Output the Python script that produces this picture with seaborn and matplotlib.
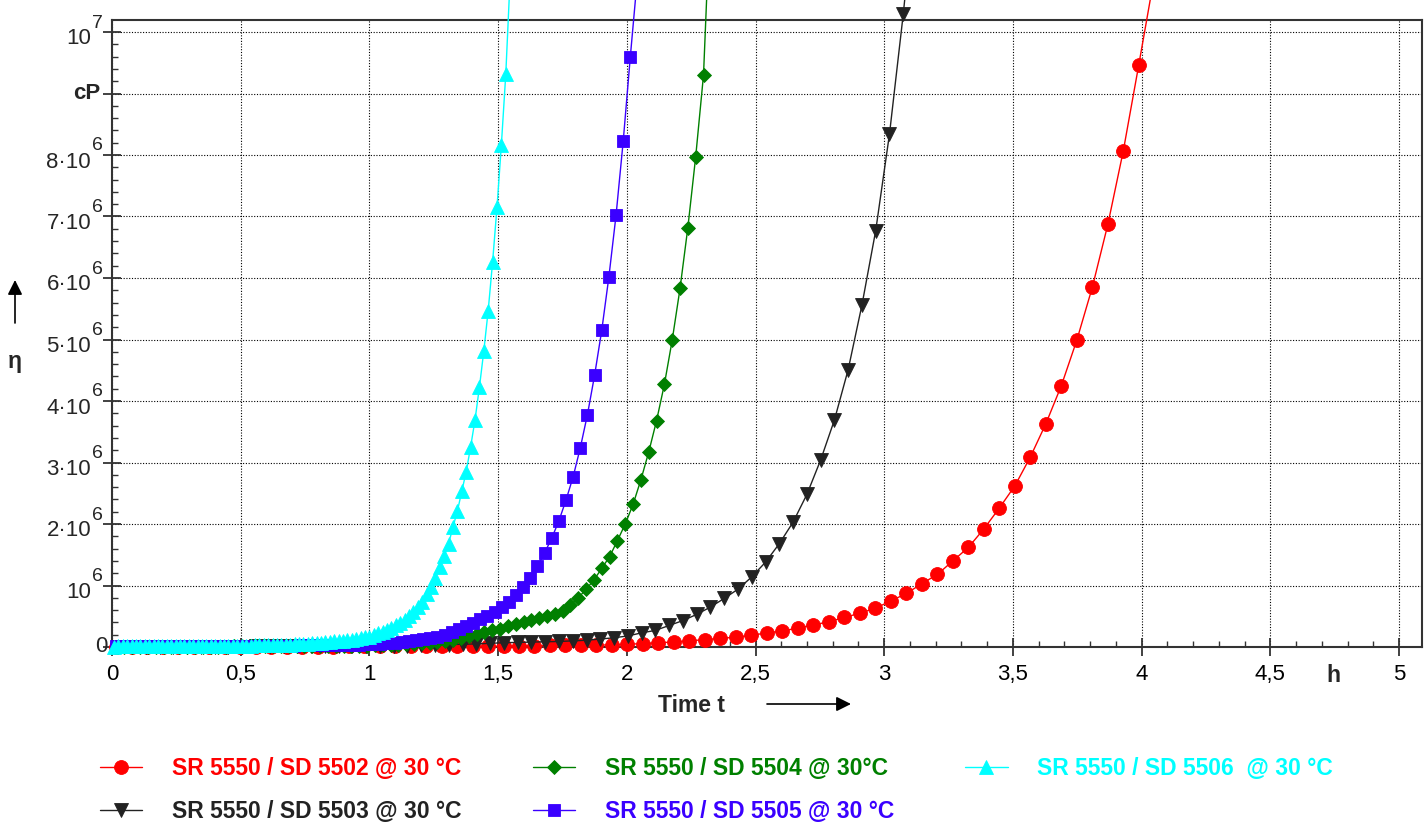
import numpy as np
import pandas as pd
import matplotlib
matplotlib.use("Agg")
import matplotlib.pyplot as plt
import seaborn as sns
from matplotlib.lines import Line2D
from matplotlib.ticker import FixedLocator, MultipleLocator

# ---------------- data (viscosity in 10^6 cP, time in h) ----------------
# each series is sampled on a regular time grid: t = T0 + STEP * index
RED_T0, RED_STEP = 0.016, 0.0602
RED_ETA = [
    0.005, 0.005, 0.005, 0.005, 0.005, 0.005, 0.005, 0.005, 0.005, 0.005,
    0.005, 0.005, 0.005, 0.005, 0.005, 0.01, 0.01, 0.01, 0.01, 0.01,
    0.01, 0.01, 0.01, 0.01, 0.015, 0.015, 0.02, 0.02, 0.025, 0.025,
    0.03, 0.03, 0.035, 0.045, 0.055, 0.07, 0.08, 0.10, 0.12, 0.14,
    0.16, 0.19, 0.23, 0.26, 0.31, 0.36, 0.41, 0.48, 0.55, 0.63,
    0.75, 0.87, 1.03, 1.18, 1.40, 1.62, 1.92, 2.26, 2.62, 3.09,
    3.63, 4.25, 4.99, 5.85, 6.87, 8.07, 9.47, 10.9]

BLACK_T0, BLACK_STEP = 0.0245, 0.0535
BLACK_ETA = [
    0.005, 0.005, 0.005, 0.005, 0.005, 0.005, 0.005, 0.005, 0.005, 0.005,
    0.01, 0.01, 0.01, 0.01, 0.01, 0.01, 0.01, 0.01, 0.01,
    0.015, 0.02, 0.02, 0.025, 0.03, 0.04, 0.045, 0.05, 0.06, 0.07,
    0.075, 0.08, 0.085, 0.09, 0.10, 0.11, 0.13, 0.15, 0.18, 0.23,
    0.27, 0.35, 0.43, 0.53, 0.65, 0.79, 0.94, 1.14, 1.38, 1.68,
    2.03, 2.48, 3.04, 3.69, 4.51, 5.56, 6.77, 8.34, 10.29, 12.5]

GREEN_T0, GREEN_STEP = 0.018, 0.0304
GREEN_ETA = [
    0.005, 0.005, 0.005, 0.005, 0.005, 0.005, 0.005, 0.005, 0.005, 0.005,
    0.005, 0.005, 0.005, 0.005, 0.005, 0.01, 0.01, 0.01, 0.01, 0.01,
    0.01, 0.01, 0.01, 0.01, 0.01, 0.01, 0.01, 0.01, 0.01, 0.01,
    0.015, 0.02, 0.02, 0.025, 0.03, 0.035, 0.04, 0.045, 0.05, 0.06,
    0.07, 0.085, 0.10, 0.12, 0.15, 0.18, 0.21, 0.24, 0.27, 0.30,
    0.34, 0.38, 0.41, 0.44, 0.47, 0.50, 0.54, 0.59, 0.68, 0.80,
    0.94, 1.09, 1.28, 1.47, 1.73, 2.00, 2.32, 2.72, 3.17, 3.68,
    4.27, 4.99, 5.83, 6.82, 7.97, 9.30, 12.4]

BLUE_T0, BLUE_STEP = 0.015, 0.02776
BLUE_ETA = [
    0.01, 0.01, 0.01, 0.01, 0.01, 0.01, 0.01, 0.01, 0.01, 0.01,
    0.01, 0.01, 0.01, 0.01, 0.01, 0.01, 0.01, 0.01, 0.01, 0.01,
    0.015, 0.015, 0.02, 0.02, 0.02, 0.02, 0.025, 0.025, 0.03, 0.03,
    0.03, 0.035, 0.035, 0.04, 0.04, 0.045, 0.05, 0.055, 0.06, 0.07,
    0.08, 0.09, 0.11, 0.13, 0.15, 0.17, 0.20, 0.24, 0.29, 0.34,
    0.39, 0.45, 0.51, 0.57, 0.65, 0.73, 0.84, 0.98, 1.13, 1.31,
    1.53, 1.77, 2.05, 2.39, 2.77, 3.24, 3.78, 4.42, 5.15, 6.02,
    7.02, 8.22, 9.60, 10.9]

CYAN_T0, CYAN_STEP = 0.008, 0.0171
CYAN_ETA = [
    0.0, 0.01, 0.01, 0.01, 0.01, 0.01, 0.01, 0.01, 0.01, 0.01,
    0.01, 0.01, 0.01, 0.01, 0.01, 0.01, 0.01, 0.01, 0.01, 0.01,
    0.015, 0.015, 0.015, 0.015, 0.015, 0.015, 0.015, 0.02, 0.02, 0.02,
    0.02, 0.02, 0.025, 0.025, 0.03, 0.03, 0.03, 0.035, 0.035, 0.04,
    0.04, 0.045, 0.05, 0.05, 0.055, 0.06, 0.065, 0.07, 0.075, 0.08,
    0.09, 0.095, 0.10, 0.11, 0.12, 0.13, 0.14, 0.155,
    0.17, 0.20, 0.22, 0.24, 0.27, 0.31, 0.35, 0.39, 0.44, 0.50,
    0.57, 0.65, 0.73, 0.86, 0.98, 1.13, 1.30, 1.48, 1.68, 1.95,
    2.21, 2.53, 2.85, 3.25, 3.69, 4.22, 4.81, 5.47, 6.26, 7.15,
    8.17, 9.32, 10.9]

SERIES_LABELS = ["SR 5550 / SD 5502 @ 30 °C", "SR 5550 / SD 5503 @ 30 °C",
                 "SR 5550 / SD 5504 @ 30°C", "SR 5550 / SD 5505 @ 30 °C",
                 "SR 5550 / SD 5506  @ 30 °C"]
X_TICKS = [0, 0.5, 1, 1.5, 2, 2.5, 3, 3.5, 4, 4.5, 5]
X_TICKLABELS = ["0", "0,5", "1", "1,5", "2", "2,5", "3", "3,5", "4", "4,5", "5"]
Y_TICKS = [0, 1e6, 2e6, 3e6, 4e6, 5e6, 6e6, 7e6, 8e6, 9e6, 1e7]
Y_TICK_BASE = ["0", "10", "2·10", "3·10", "4·10", "5·10", "6·10", "7·10", "8·10", "cP", "10"]
Y_TICK_EXP = ["", "6", "6", "6", "6", "6", "6", "6", "6", "", "7"]

# ---------------- style ----------------
sns.set_theme(style="white")
plt.rcParams['font.family'] = ['Liberation Sans', 'DejaVu Sans']

W, H = 1428, 833
fig = plt.figure(figsize=(W / 100, H / 100), dpi=100)
ax = fig.add_axes([112 / W, 1 - 647 / H, (1422 - 112) / W, (647 - 20) / H])

specs = [
    (RED_T0, RED_STEP, RED_ETA, "#ff0000", "o", 10, SERIES_LABELS[0]),
    (BLACK_T0, BLACK_STEP, BLACK_ETA, "#222222", "v", 10, SERIES_LABELS[1]),
    (GREEN_T0, GREEN_STEP, GREEN_ETA, "#008000", "D", 7, SERIES_LABELS[2]),
    (BLUE_T0, BLUE_STEP, BLUE_ETA, "#3a00ff", "s", 8.3, SERIES_LABELS[3]),
    (CYAN_T0, CYAN_STEP, CYAN_ETA, "#00ffff", "^", 9.5, SERIES_LABELS[4]),
]

handles = []
for i, (t0, step, eta, col, mk, ms, lab) in enumerate(specs):
    eta = np.asarray(eta) * 1e6
    t = t0 + step * np.arange(len(eta))
    df = pd.DataFrame({"t": t, "eta": eta})
    sns.lineplot(data=df, x="t", y="eta", ax=ax, color=col, marker=mk,
                 markersize=ms, markeredgewidth=0.6, markeredgecolor=col,
                 linewidth=1.0, estimator=None, sort=False, clip_on=False,
                 zorder=3 + i)
    handles.append(Line2D([], [], color=col, marker=mk, markersize=ms,
                          markeredgewidth=0.6, markeredgecolor=col, linewidth=1.0,
                          label=lab))

ax.set_xlim(0, (1422 - 112) / 257.4)
ax.set_ylim(0, (647 - 20) / 61.5 * 1e6)
ax.set_xlabel("")
ax.set_ylabel("")

ax.xaxis.set_major_locator(FixedLocator(X_TICKS))
ax.set_xticklabels(X_TICKLABELS)
ax.yaxis.set_major_locator(FixedLocator(Y_TICKS))
ax.set_yticklabels([""] * len(Y_TICKS))
ax.xaxis.set_minor_locator(MultipleLocator(0.1))
ax.yaxis.set_minor_locator(MultipleLocator(0.2e6))

spine_col = "#333333"
for s in ax.spines.values():
    s.set_color(spine_col)
    s.set_linewidth(1.5)
    s.set_visible(True)

ax.tick_params(axis="both", which="major", direction="inout", length=13, width=1.3,
               color=spine_col, labelsize=16, labelcolor="black",
               bottom=True, left=True, top=False, right=False)
ax.tick_params(axis="x", which="major", pad=6)
ax.tick_params(axis="both", which="minor", direction="in", length=4, width=1.0,
               color=spine_col, bottom=True, left=True, top=False, right=False)

ax.grid(True, which="major", color="black", linestyle=(0, (1, 1.5)), linewidth=0.8)
ax.set_axisbelow(True)

# y tick labels with raised, large exponents (as in the reference)
ytrans = ax.get_yaxis_transform()
for val, base, ex in zip(Y_TICKS, Y_TICK_BASE, Y_TICK_EXP):
    if ex == "":
        bold = base == "cP"
        ax.annotate(base, xy=(0, val), xycoords=ytrans,
                    xytext=(-5 if base == "0" else -12, 0), textcoords="offset pixels",
                    ha="right", va="center", fontsize=16,
                    fontweight="bold" if bold else "normal", annotation_clip=False)
    else:
        ax.annotate(base, xy=(0, val), xycoords=ytrans, xytext=(-21, -7),
                    textcoords="offset pixels", ha="right", va="center", fontsize=16,
                    annotation_clip=False)
        ax.annotate(ex, xy=(0, val), xycoords=ytrans, xytext=(-20, 9),
                    textcoords="offset pixels", ha="left", va="center", fontsize=14,
                    annotation_clip=False)

def fx(px):
    return px / W

def fy(py):
    return 1 - py / H

fig.text(fx(1333), fy(675), "h", ha="center", va="center", fontsize=16.5, fontweight="bold")
fig.text(fx(691), fy(705), "Time t", ha="center", va="center", fontsize=16.5, fontweight="bold")
ax.annotate("", xy=(fx(851), fy(704)), xytext=(fx(767), fy(704)), xycoords="figure fraction",
            textcoords="figure fraction",
            arrowprops=dict(arrowstyle="-|>", color="black", lw=1.2, mutation_scale=22,
                            shrinkA=0, shrinkB=0))
fig.text(fx(15), fy(362), "η", ha="center", va="center", fontsize=16.5, fontweight="bold")
ax.annotate("", xy=(fx(15), fy(280)), xytext=(fx(15), fy(323)), xycoords="figure fraction",
            textcoords="figure fraction",
            arrowprops=dict(arrowstyle="-|>", color="black", lw=1.2, mutation_scale=22,
                            shrinkA=0, shrinkB=0))

leg = fig.legend(handles=handles, labels=[h.get_label() for h in handles],
                 ncol=3, loc="upper left", bbox_to_anchor=(fx(100), fy(757)),
                 frameon=False, prop={"weight": "bold", "size": 16.5},
                 handlelength=1.85, handletextpad=1.3, columnspacing=3.1,
                 labelspacing=0.88, borderpad=0, borderaxespad=0, labelcolor="linecolor")

fig.savefig("out.png", dpi=100)
